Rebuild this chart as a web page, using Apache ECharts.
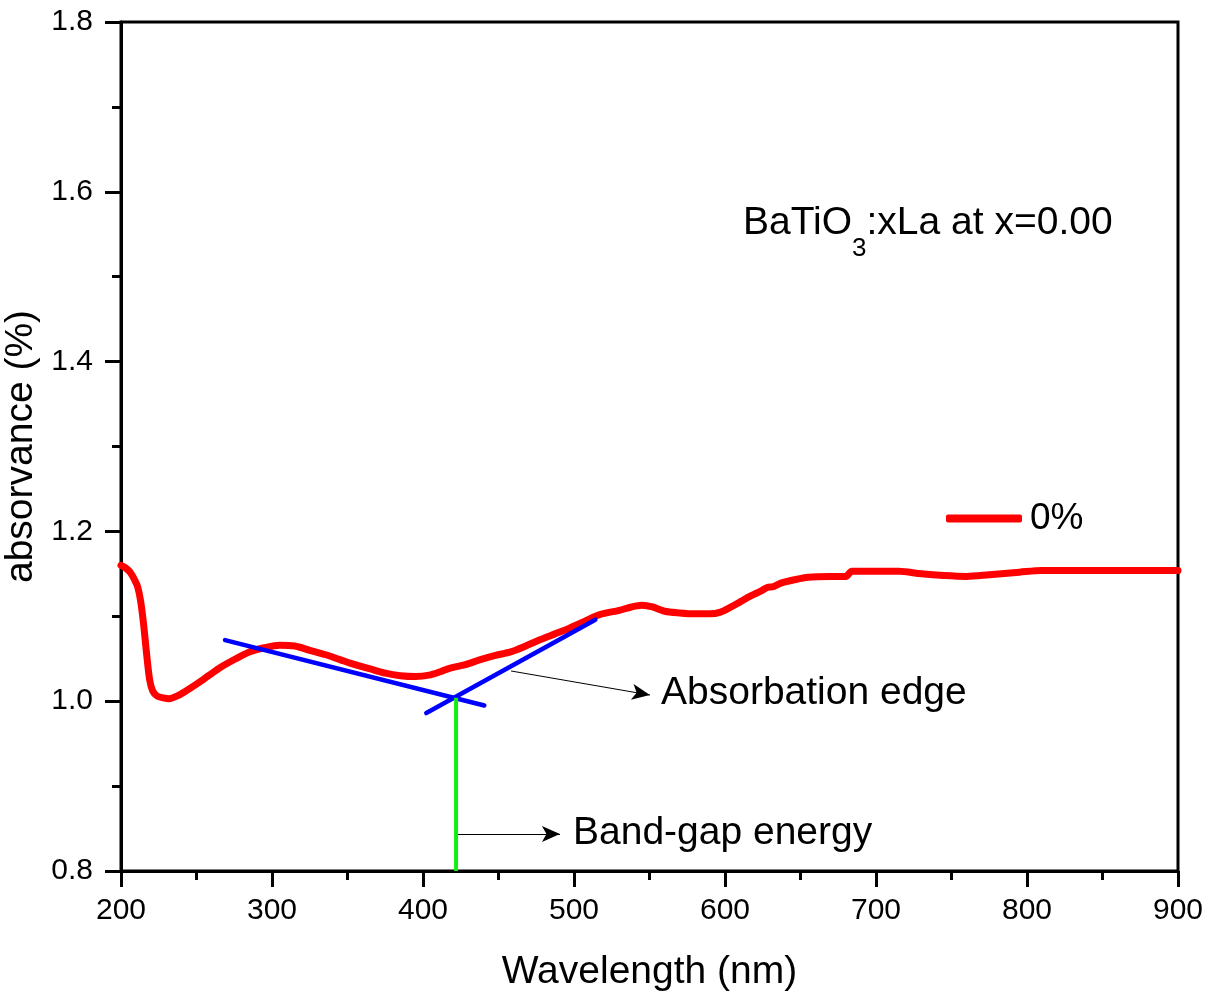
<!DOCTYPE html>
<html><head><meta charset="utf-8">
<script src="https://cdn.jsdelivr.net/npm/echarts@6/dist/echarts.min.js"></script>
<style>html,body{margin:0;padding:0;background:#fff}#c{width:1211px;height:997px}</style>
</head><body><div id="c"></div>
<script>
// ---- data ----
const wavelength = [200,203,206,209,211,213,215,217,219,221,224,228,232,237,243,250,258,266,276,285,295,305,315,325,335,345,355,365,375,385,395,405,412,418,428,438,448,458,468,477,487,497,507,517,530,538,545,552,560,570,580,590,597,604,610,617,624,628,632,637,646,655,669,680,684,700,715,730,745,760,775,795,810,850,900];
const absorbance = [1.160,1.157,1.152,1.143,1.135,1.118,1.090,1.055,1.025,1.012,1.006,1.004,1.003,1.006,1.012,1.020,1.030,1.040,1.050,1.058,1.063,1.066,1.065,1.060,1.055,1.049,1.043,1.038,1.033,1.030,1.029,1.031,1.035,1.039,1.043,1.049,1.054,1.058,1.065,1.072,1.079,1.086,1.094,1.102,1.107,1.111,1.113,1.111,1.106,1.104,1.103,1.103,1.105,1.111,1.117,1.124,1.130,1.134,1.135,1.139,1.143,1.146,1.147,1.147,1.153,1.153,1.153,1.150,1.148,1.147,1.149,1.152,1.154,1.154,1.154];
const seriesName = '0%';
// tangent lines (absorption edge construction)
const tangent1X = [268.9, 440.6];
const tangent1Y = [1.072, 0.995];
const tangent2X = [402.2, 514.1];
const tangent2Y = [0.986, 1.096];
// band-gap marker
const bandGapX = [421.9, 421.9];
const bandGapY = [1.004, 0.8];
// annotation arrows [start, end]
const edgeArrow = [[458.3, 1.0356], [550.3, 1.0073]];
const gapArrow = [[421.9, 0.8436], [490.7, 0.8436]];
const xMin = 200, xMax = 900, xStep = 100;
const yMin = 0.8, yMax = 1.8, yStep = 0.2;
const titleText = ['BaTiO', '3', ':xLa at x=0.00'];
const edgeLabel = 'Absorbation edge';
const gapLabel = 'Band-gap energy';

const zip = (a, b) => a.map((v, i) => [v, b[i]]);
const FONT = '"Liberation Sans", Arial, sans-serif';

const chart = echarts.init(document.getElementById('c'), null, {renderer: 'canvas'});
chart.setOption({
  animation: false,
  backgroundColor: '#fff',
  grid: {left: 121, right: 33, top: 22, bottom: 126, outerBoundsMode: 'none', containLabel: false,
         show: true, borderColor: '#000', borderWidth: 3, backgroundColor: 'transparent'},
  xAxis: {
    type: 'value', min: xMin, max: xMax, interval: xStep,
    name: 'Wavelength (nm)', nameLocation: 'middle', nameGap: 82,
    nameTextStyle: {fontFamily: FONT, fontSize: 39, color: '#000'},
    axisLine: {show: true, onZero: false, lineStyle: {color: '#000', width: 3}},
    axisTick: {show: true, inside: false, length: 16, lineStyle: {color: '#000', width: 3}},
    minorTick: {show: true, splitNumber: 2, length: 9, lineStyle: {color: '#000', width: 3}},
    axisLabel: {fontFamily: FONT, fontSize: 30, color: '#000', margin: 25},
    splitLine: {show: false}
  },
  yAxis: {
    type: 'value', min: yMin, max: yMax, interval: yStep,
    name: 'absorvance (%)', nameLocation: 'middle', nameGap: 78, nameRotate: 90,
    nameTextStyle: {fontFamily: FONT, fontSize: 39, color: '#000'},
    axisLine: {show: true, onZero: false, lineStyle: {color: '#000', width: 3}},
    axisTick: {show: true, inside: false, length: 16, lineStyle: {color: '#000', width: 3}},
    minorTick: {show: true, splitNumber: 2, length: 9, lineStyle: {color: '#000', width: 3}},
    axisLabel: {fontFamily: FONT, fontSize: 30, color: '#000', margin: 28, formatter: v => v.toFixed(1)},
    splitLine: {show: false}
  },
  legend: {
    data: [seriesName], left: 946, top: 500, padding: 0,
    icon: 'roundRect', itemWidth: 76, itemHeight: 8,
    textStyle: {fontFamily: FONT, fontSize: 37, color: '#000', lineHeight: 37, padding: [0, 0, 0, 3]}
  },
  series: [
    {
      name: seriesName, type: 'line', data: zip(wavelength, absorbance),
      showSymbol: false, symbol: 'none', smooth: 0.3, z: 3,
      lineStyle: {color: '#ff0000', width: 7, cap: 'round', join: 'round'},
      itemStyle: {color: '#ff0000'}
    },
    {
      name: 'tangent1', type: 'line', data: zip(tangent1X, tangent1Y), symbol: 'none', z: 4,
      lineStyle: {color: '#0000ff', width: 4.5, cap: 'round'}
    },
    {
      name: 'tangent2', type: 'line', data: zip(tangent2X, tangent2Y), symbol: 'none', z: 4,
      lineStyle: {color: '#0000ff', width: 4.5, cap: 'round'}
    },
    {
      name: 'bandgap', type: 'line', data: zip(bandGapX, bandGapY), symbol: 'none', z: 5,
      lineStyle: {color: '#11ee11', width: 4}
    },
    {
      name: 'arrows', type: 'line', data: [], z: 6,
      markLine: {
        silent: true, symbol: ['none', 'arrow'], symbolSize: [12, 18], precision: 4,
        label: {show: false},
        lineStyle: {color: '#000', width: 1, type: 'solid'},
        data: [
          [{coord: edgeArrow[0]}, {coord: edgeArrow[1]}],
          [{coord: gapArrow[0]}, {coord: gapArrow[1]}]
        ]
      }
    }
  ],
  graphic: [
    {
      type: 'text', left: 743, top: 204, z: 10,
      style: {
        rich: {
          a: {fontFamily: FONT, fontSize: 39, lineHeight: 39, verticalAlign: 'top', fill: '#000'},
          s: {fontFamily: FONT, fontSize: 26, lineHeight: 58, verticalAlign: 'bottom', fill: '#000'}
        },
        text: '{a|' + titleText[0] + '}{s|' + titleText[1] + '}{a|' + titleText[2] + '}'
      }
    },
    {type: 'text', left: 661, top: 674, z: 10, style: {text: edgeLabel, font: '39px ' + FONT, fill: '#000'}},
    {type: 'text', left: 573, top: 814, z: 10, style: {text: gapLabel, font: '39px ' + FONT, fill: '#000'}}
  ]
});
</script>
</body></html>
